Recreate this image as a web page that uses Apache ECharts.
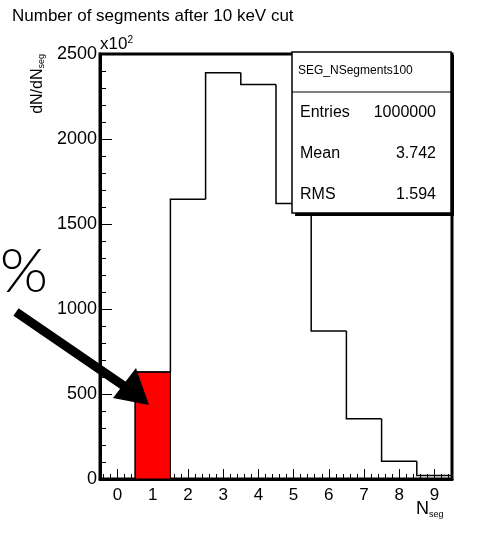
<!DOCTYPE html>
<html lang="en">
<head>
<meta charset="UTF-8">
<title>Number of segments after 10 keV cut</title>
<style>
  html, body { margin: 0; padding: 0; background: #fff; }
  #main { width: 483px; height: 533px; }
</style>
</head>
<body>
<div id="main"></div>
<script src="https://cdn.jsdelivr.net/npm/echarts@6/dist/echarts.min.js"></script>
<script>
// histogram: bin centres and contents (units of x10^2)
var nSeg = [0, 1, 2, 3, 4, 5, 6, 7, 8, 9];
var counts = [0, 630, 1645, 2390, 2320, 1620, 870, 355, 105, 20];
var highlightBin = 1;
var xTickLabels = [0, 1, 2, 3, 4, 5, 6, 7, 8, 9];
var statsLabels = ['Entries', 'Mean', 'RMS'];
var statsValues = ['1000000', '3.742', '1.594'];

var font = 'Liberation Sans, Arial, sans-serif';

// minor tick positions every 0.2 along x
var xMinor = [];
for (var t = -0.4; t < 9.5; t += 0.2) xMinor.push(Math.round(t * 10) / 10);

var stepData = nSeg.map(function (x, i) {
  return [x, counts[i], i > 0 ? counts[i - 1] : 0];
});

function renderStep(params, api) {
  var x = api.value(0), y = api.value(1), prev = api.value(2);
  var a = api.coord([x - 0.5, prev]);
  var b = api.coord([x - 0.5, y]);
  var c = api.coord([x + 0.5, y]);
  var pts = [a, b, c];
  if (params.dataIndex === nSeg.length - 1) pts.push(api.coord([x + 0.5, 0]));
  return {
    type: 'polyline',
    shape: { points: pts },
    style: { stroke: '#000', lineWidth: 1.5, fill: null }
  };
}

function renderBar(params, api) {
  var x = api.value(0), y = api.value(1);
  var p0 = api.coord([x - 0.5, 0]);
  var p1 = api.coord([x + 0.5, y]);
  return {
    type: 'rect',
    shape: { x: p0[0], y: p1[1], width: p1[0] - p0[0], height: p0[1] - p1[1] },
    style: { fill: '#ff0000', stroke: '#000', lineWidth: 1 }
  };
}

var chart = echarts.init(document.getElementById('main'));

var statsRows = statsLabels.map(function (lab, i) {
  var y = 114 + i * 41;
  return [
    { type: 'text', left: 300, top: y - 9, style: { text: lab, font: '16px ' + font, fill: '#000' } },
    { type: 'text', right: 47, top: y - 9, style: { text: statsValues[i], font: '16px ' + font, fill: '#000', align: 'right' } }
  ];
}).reduce(function (a, b) { return a.concat(b); }, []);

var option = {
  animation: false,
  backgroundColor: '#fff',
  title: {
    text: 'Number of segments after 10 keV cut',
    left: 7, top: 3,
    textStyle: { fontFamily: font, fontSize: 17, fontWeight: 'normal', color: '#000' }
  },
  grid: {
    left: 100, right: 31, top: 54, bottom: 54,
    show: true, borderColor: '#000', borderWidth: 3, backgroundColor: '#fff'
  },
  xAxis: [{
    type: 'value', min: -0.5, max: 9.5,
    axisLine: { show: true, onZero: false, lineStyle: { color: '#000', width: 3 } },
    axisTick: { show: true, inside: true, length: 10, customValues: xTickLabels, lineStyle: { color: '#000', width: 1 } },
    axisLabel: { customValues: xTickLabels, color: '#000', fontFamily: font, fontSize: 17, margin: 8 },
    splitLine: { show: false }
  }, {
    type: 'value', min: -0.5, max: 9.5, position: 'bottom',
    axisLine: { show: false, onZero: false },
    axisTick: { show: true, inside: true, length: 5, customValues: xMinor, lineStyle: { color: '#000', width: 1 } },
    axisLabel: { show: false },
    splitLine: { show: false }
  }],
  yAxis: {
    type: 'value', min: 0, max: 2500, interval: 500,
    axisLine: { show: true, onZero: false, lineStyle: { color: '#000', width: 3 } },
    axisTick: { show: true, inside: true, length: 12, lineStyle: { color: '#000', width: 1 } },
    minorTick: { show: true, splitNumber: 5, length: 6, lineStyle: { color: '#000', width: 1 } },
    axisLabel: { color: '#000', fontFamily: font, fontSize: 18, margin: 3,
      formatter: function (v) { return String(v); } },
    splitLine: { show: false },
    minorSplitLine: { show: false }
  },
  series: [{
    type: 'custom',
    renderItem: renderBar,
    data: [[nSeg[highlightBin], counts[highlightBin]]],
    clip: true, z: 2
  }, {
    type: 'custom',
    renderItem: renderStep,
    data: stepData,
    clip: true, z: 3
  }],
  graphic: [
    // x10^2 multiplier
    { type: 'text', left: 100, top: 35, z: 10,
      style: { text: 'x10{s|2}', font: '17px ' + font, fill: '#000',
        rich: { s: { fontSize: 10, verticalAlign: 'top', padding: [0, 0, 9, 0] } } } },
    // y title (rotated)
    { type: 'text', x: 29, y: 54, rotation: Math.PI / 2, z: 10,
      style: { text: 'dN/dN{s|seg}', font: '16px ' + font, fill: '#000', align: 'right', verticalAlign: 'top',
        rich: { s: { fontSize: 9, padding: [8, 0, 0, 0] } } } },
    // x title
    { type: 'text', left: 416, top: 500, z: 10,
      style: { text: 'N{s|seg}', font: '18px ' + font, fill: '#000',
        rich: { s: { fontSize: 9, padding: [12, 0, 0, 0] } } } },
    // stats box
    { type: 'rect', shape: { x: 295, y: 55, width: 159, height: 161 }, z: 20,
      style: { fill: '#000' } },
    { type: 'rect', shape: { x: 292, y: 52, width: 159, height: 161 }, z: 21,
      style: { fill: '#fff', stroke: '#000', lineWidth: 1.5 } },
    { type: 'line', shape: { x1: 292, y1: 92, x2: 451, y2: 92 }, z: 22,
      style: { stroke: '#000', lineWidth: 1.2 } },
    { type: 'text', left: 298, top: 65, z: 22,
      style: { text: 'SEG_NSegments100', font: '12px ' + font, fill: '#000' } }
  ].concat(statsRows.map(function (g) { g.z = 22; return g; })).concat([
    // annotation
    { type: 'text', x: 48, y: 272, z: 30,
      style: { text: '%', font: '300 62px Lato, sans-serif', fill: '#000', align: 'right', verticalAlign: 'middle' } },
    { type: 'line', shape: { x1: 16, y1: 312, x2: 124, y2: 386 }, z: 30,
      style: { stroke: '#000', lineWidth: 9 } },
    { type: 'polygon', shape: { points: [[113, 398], [136, 368], [149, 405]] }, z: 30,
      style: { fill: '#000' } }
  ])
};

chart.setOption(option);
</script>
</body>
</html>
